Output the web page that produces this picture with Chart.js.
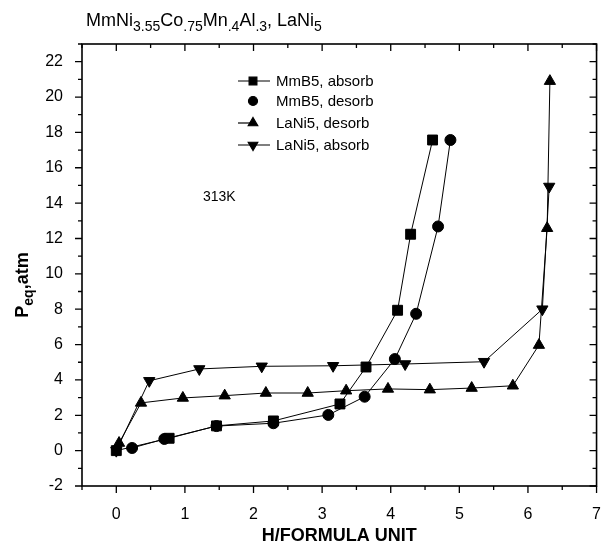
<!DOCTYPE html>
<html>
<head>
<meta charset="utf-8">
<script src="https://cdn.jsdelivr.net/npm/chart.js@4.4.1/dist/chart.umd.min.js"></script>
<style>
  html, body { margin: 0; padding: 0; background: #fff; }
  #wrap { width: 612px; height: 547px; position: relative; }
</style>
</head>
<body>
<div id="wrap"><canvas id="c" width="612" height="547"></canvas></div>
<script>
// ── data (x = H/formula unit, y = Peq in atm) ──────────────────────────────────
const mmAbsX = [0.0, 0.77, 1.46, 2.29, 3.26, 3.64, 4.10, 4.29, 4.61];
const mmAbsY = [0.0, 0.70, 1.40, 1.68, 2.64, 4.73, 7.94, 12.24, 17.57];

const mmDesX = [0.23, 0.70, 1.46, 2.29, 3.09, 3.62, 4.06, 4.37, 4.69, 4.87];
const mmDesY = [0.15, 0.66, 1.39, 1.55, 2.02, 3.05, 5.18, 7.74, 12.68, 17.57];

const laDesX = [0.04, 0.36, 0.97, 1.58, 2.18, 2.79, 3.35, 3.96, 4.57, 5.18, 5.78, 6.16, 6.28, 6.32];
const laDesY = [0.43, 2.70, 2.98, 3.11, 3.26, 3.26, 3.39, 3.49, 3.45, 3.54, 3.67, 5.97, 12.58, 20.90];

const laAbsX = [0.0, 0.48, 1.21, 2.12, 3.16, 4.21, 5.36, 6.21, 6.31];
const laAbsY = [0.0, 3.95, 4.62, 4.77, 4.80, 4.90, 5.03, 8.00, 14.94];

const seriesNames = ['MmB5, absorb', 'MmB5, desorb', 'LaNi5, desorb', 'LaNi5, absorb'];
const xTicks = [0, 1, 2, 3, 4, 5, 6, 7];
const yTicks = [-2, 0, 2, 4, 6, 8, 10, 12, 14, 16, 18, 20, 22];

const FONT = "'Liberation Sans', Arial, Helvetica, sans-serif";
const INK = '#000';

const pts = (xs, ys) => xs.map((x, i) => ({ x, y: ys[i] }));

// rich text with subscripts: parts = [[text, isSub], ...]
function richText(ctx, parts, x, y, size, weight) {
  let cx = x;
  for (const [t, sub] of parts) {
    ctx.font = `${weight} ${sub ? Math.round(size * 0.8) : size}px ${FONT}`;
    ctx.fillText(t, cx, sub ? y + size * 0.3 : y);
    cx += ctx.measureText(t).width;
  }
  return cx - x;
}
function richWidth(ctx, parts, size, weight) {
  let w = 0;
  for (const [t, sub] of parts) {
    ctx.font = `${weight} ${sub ? Math.round(size * 0.8) : size}px ${FONT}`;
    w += ctx.measureText(t).width;
  }
  return w;
}

// frame, major/minor ticks on all four sides, title, y title, legend, note
const decor = {
  id: 'decor',
  afterDraw(chart) {
    const { ctx, chartArea: a, scales: { x, y } } = chart;
    ctx.save();
    ctx.strokeStyle = INK; ctx.fillStyle = INK;
    ctx.lineWidth = 1.6;
    ctx.strokeRect(a.left, a.top, a.right - a.left, a.bottom - a.top);

    ctx.lineWidth = 1.3;
    ctx.beginPath();
    for (let v = -0.5; v <= 7.001; v += 0.5) {
      const px = x.getPixelForValue(v);
      const major = Math.abs(v - Math.round(v)) < 1e-6;
      const len = major ? 7 : 4;
      ctx.moveTo(px, a.bottom); ctx.lineTo(px, a.bottom + len);   // outward, bottom
      ctx.moveTo(px, a.top); ctx.lineTo(px, a.top + len);         // inward, top
    }
    for (let v = -2; v <= 23; v += 1) {
      const py = y.getPixelForValue(v);
      const major = v % 2 === 0;
      const len = major ? 7 : 4;
      ctx.moveTo(a.left, py); ctx.lineTo(a.left - len, py);       // outward, left
      ctx.moveTo(a.right, py); ctx.lineTo(a.right - len, py);     // inward, right
    }
    ctx.stroke();

    // title
    ctx.textAlign = 'left'; ctx.textBaseline = 'alphabetic';
    richText(ctx, [['MmNi', 0], ['3.55', 1], ['Co', 0], ['.75', 1], ['Mn', 0], ['.4', 1],
                   ['Al', 0], ['.3', 1], [', LaNi', 0], ['5', 1]], 86, 26, 18, 'normal');

    // y title (rotated)
    const yParts = [['P', 0], ['eq', 1], [',atm', 0]];
    const yw = richWidth(ctx, yParts, 18, 'bold');
    ctx.save();
    ctx.translate(28, 285);
    ctx.rotate(-Math.PI / 2);
    richText(ctx, yParts, -yw / 2, 0, 18, 'bold');
    ctx.restore();

    // note
    ctx.font = `14px ${FONT}`;
    ctx.fillText('313K', 203, 201);

    // legend
    const styles = ['rect', 'circle', 'triangle', 'triangle'];
    const rots = [0, 0, 0, 180];
    const radii = [5.5, 4.5, 5.5, 5.5];
    const lineL = [true, false, true, true];
    const lineR = [true, false, false, true];
    const ly = [81, 101, 123, 145];
    ctx.font = `15px ${FONT}`;
    ctx.textBaseline = 'middle';
    seriesNames.forEach((name, i) => {
      const cy = ly[i], cx = 253;
      ctx.lineWidth = 1.2;
      ctx.beginPath();
      if (lineL[i]) { ctx.moveTo(cx - 15, cy); ctx.lineTo(cx, cy); }
      if (lineR[i]) { ctx.moveTo(cx, cy); ctx.lineTo(cx + 17, cy); }
      ctx.stroke();
      Chart.helpers.drawPoint(ctx, { pointStyle: styles[i], radius: radii[i], rotation: rots[i], borderWidth: 1 }, cx, cy);
      ctx.fillText(name, 276, cy + 1);
    });
    ctx.restore();
  },
};

const mk = (label, data, style, rot, r) => ({
  label, data,
  borderColor: INK, backgroundColor: INK, borderWidth: 1,
  pointStyle: style, rotation: rot, pointRadius: r, pointHoverRadius: r,
  pointBackgroundColor: INK, pointBorderColor: INK,
  showLine: true, tension: 0,
});

new Chart(document.getElementById('c'), {
  type: 'scatter',
  data: {
    datasets: [
      mk(seriesNames[0], pts(mmAbsX, mmAbsY), 'rect', 0, 7),
      mk(seriesNames[1], pts(mmDesX, mmDesY), 'circle', 0, 5.5),
      mk(seriesNames[2], pts(laDesX, laDesY), 'triangle', 0, 6.5),
      mk(seriesNames[3], pts(laAbsX, laAbsY), 'triangle', 180, 6.5),
    ],
  },
  options: {
    responsive: false, animation: false, devicePixelRatio: 1,
    layout: { padding: { top: 44, right: 12, left: 0, bottom: 0 } },
    plugins: { legend: { display: false }, tooltip: { enabled: false } },
    scales: {
      x: {
        type: 'linear', min: -0.5, max: 7,
        afterBuildTicks: s => { s.ticks = xTicks.map(v => ({ value: v })); },
        afterFit: s => { s.height = 61; },
        grid: { display: false }, border: { display: false },
        ticks: { color: INK, padding: 11, font: { family: FONT, size: 16 }, maxRotation: 0 },
        title: { display: true, text: 'H/FORMULA UNIT', color: INK, padding: { top: 8, bottom: 0 }, font: { family: FONT, size: 18, weight: 'bold' } },
      },
      y: {
        type: 'linear', min: -2, max: 23,
        afterBuildTicks: s => { s.ticks = yTicks.map(v => ({ value: v })); },
        afterFit: s => { s.width = 82; },
        grid: { display: false }, border: { display: false },
        ticks: { color: INK, padding: 11, font: { family: FONT, size: 16 } },
      },
    },
  },
  plugins: [decor],
});
</script>
</body>
</html>
